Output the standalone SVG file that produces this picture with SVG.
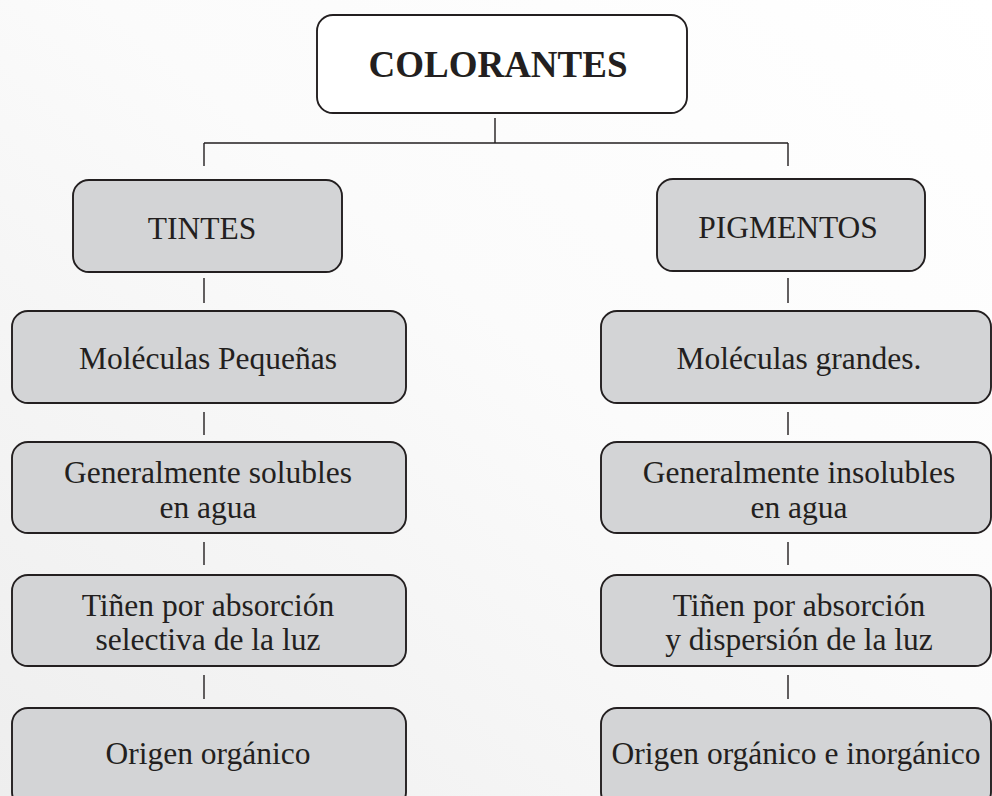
<svg xmlns="http://www.w3.org/2000/svg" width="992" height="796" viewBox="0 0 992 796">
<defs>
<linearGradient id="bg" x1="1" y1="0" x2="0" y2="1">
<stop offset="0" stop-color="#ffffff"/>
<stop offset="0.45" stop-color="#fbfbfb"/>
<stop offset="1" stop-color="#eeeeee"/>
</linearGradient>
<style>
.box{fill:#d3d4d6;stroke:#231f20;stroke-width:1.9}
.top{fill:#ffffff;stroke:#231f20;stroke-width:1.9}
.t{font-family:"Liberation Serif","Times New Roman",serif;font-size:31.5px;fill:#231f20;text-anchor:middle}
.tb{font-family:"Liberation Serif","Times New Roman",serif;font-size:37px;font-weight:bold;fill:#231f20;text-anchor:middle}
.c{stroke:#231f20;stroke-width:1.4;fill:none}
</style>
</defs>
<rect x="0" y="0" width="992" height="796" fill="url(#bg)"/>
<g id="connectors">
<path class="c" d="M495,118V143M204,143H788M204,143V166M788,143V166"/>
<path class="c" d="M204,278V303M204,412V435M204,542V565M204,675V699"/>
<path class="c" d="M788,278V303M788,412V435M788,542V565M788,675V699"/>
</g>
<g id="colorantes">
<rect class="top" x="317" y="15" width="370" height="98" rx="16"/>
<text class="tb" x="498" y="77">COLORANTES</text>
</g>
<g id="tintes">
<rect class="box" x="73" y="180" width="269" height="92" rx="16"/>
<text class="t" x="202" y="239">TINTES</text>
</g>
<g id="pigmentos">
<rect class="box" x="657" y="179" width="268" height="92" rx="16"/>
<text class="t" x="788" y="238">PIGMENTOS</text>
</g>
<g id="t1">
<rect class="box" x="12" y="311" width="394" height="92" rx="16"/>
<text class="t" x="208" y="369">Moléculas Pequeñas</text>
</g>
<g id="t2">
<rect class="box" x="12" y="442" width="394" height="91" rx="16"/>
<text class="t" x="208" y="483">Generalmente solubles</text>
<text class="t" x="208" y="518">en agua</text>
</g>
<g id="t3">
<rect class="box" x="12" y="575" width="394" height="91" rx="16"/>
<text class="t" x="208" y="616">Tiñen por absorción</text>
<text class="t" x="208" y="650">selectiva de la luz</text>
</g>
<g id="t4">
<rect class="box" x="12" y="708" width="394" height="100" rx="16"/>
<text class="t" x="208" y="764">Origen orgánico</text>
</g>
<g id="p1">
<rect class="box" x="601" y="311" width="390" height="92" rx="16"/>
<text class="t" x="799" y="369">Moléculas grandes.</text>
</g>
<g id="p2">
<rect class="box" x="601" y="442" width="390" height="91" rx="16"/>
<text class="t" x="799" y="483">Generalmente insolubles</text>
<text class="t" x="799" y="518">en agua</text>
</g>
<g id="p3">
<rect class="box" x="601" y="575" width="390" height="91" rx="16"/>
<text class="t" x="799" y="616">Tiñen por absorción</text>
<text class="t" x="799" y="650">y dispersión de la luz</text>
</g>
<g id="p4">
<rect class="box" x="601" y="708" width="390" height="100" rx="16"/>
<text class="t" x="796" y="764">Origen orgánico e inorgánico</text>
</g>
</svg>
